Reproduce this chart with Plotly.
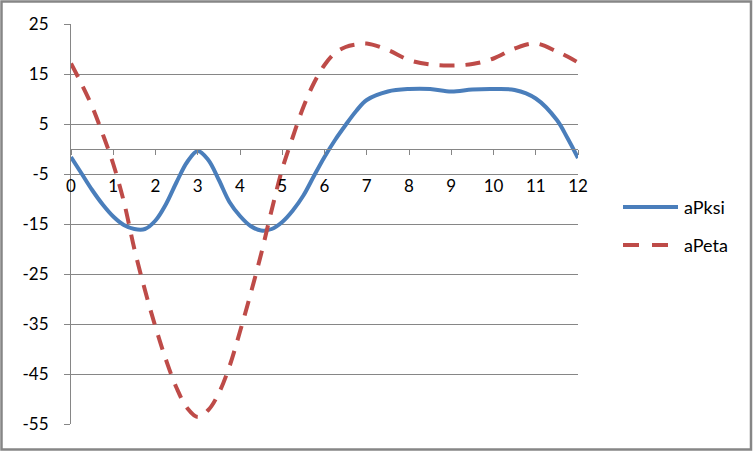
import plotly.graph_objects as go

x_vals = [0, 0.25, 0.5, 0.75, 1, 1.25, 1.5, 1.75, 2, 2.25, 2.5, 2.75, 3, 3.25, 3.5, 3.75, 4, 4.25, 4.5, 4.75,
          5, 5.25, 5.5, 5.75, 6, 6.25, 6.5, 6.75, 7, 7.5, 8, 8.5, 9, 9.5, 10, 10.5, 11, 11.5, 11.75, 12]
aPksi = [-1.6, -4.9, -8.2, -11.1, -13.5, -15.2, -16.0, -16.0, -14.3, -11.0, -6.6, -2.6, -0.4, -2.2, -6.2, -10.6,
         -13.4, -15.4, -16.3, -16.0, -14.6, -12.3, -9.3, -5.4, -1.6, 1.8, 4.8, 7.6, 9.8, 11.5, 12.0, 12.0, 11.5, 11.9,
         12.0, 11.8, 10.1, 5.8, 2.2, -1.8]
aPeta = [17.1, 13.0, 8.5, 3.0, -3.0, -10.5, -20.0, -28.2, -35.6, -42.2, -47.8, -51.8, -53.6, -52.2, -48.8, -43.5,
         -36.5, -29.0, -21.0, -12.2, -4.0, 2.4, 8.4, 13.2, 16.8, 19.2, 20.4, 20.9, 21.1, 19.8, 17.8, 16.9, 16.7, 17.0,
         18.1, 20.1, 21.1, 19.5, 18.5, 17.3]
x_ticks = list(range(0, 13))
y_ticks = [-55, -45, -35, -25, -15, -5, 5, 15, 25]
y_tick_text = ["-55", "-45", "-35", "-25", "-15", "-5", "5", "15", "25"]
series_names = ["aPksi", "aPeta"]
series_colors = ["#4A7EBB", "#BE4B48"]

FONT = "Lato, Open Sans, sans-serif"
GRAY = "#868686"

fig = go.Figure()
fig.add_trace(go.Scatter(x=x_vals, y=aPksi, mode="lines", name=series_names[0], showlegend=False,
                         line=dict(color=series_colors[0], width=4, shape="spline", smoothing=1.0)))
fig.add_trace(go.Scatter(x=x_vals, y=aPeta, mode="lines", name=series_names[1], showlegend=False,
                         line=dict(color=series_colors[1], width=4, shape="spline", smoothing=1.0, dash="15px,11px")))

W, H = 753, 451
L, R, T, B = 71, 578, 24, 424
pw, ph = R - L, B - T
ymin, ymax = -55, 25
zero_frac = (0 - ymin) / (ymax - ymin)

def px(xp):
    return (xp - L) / pw

def py(yp):
    return (B - yp) / ph

shapes = [dict(type="rect", xref="paper", yref="paper",
               x0=px(1.5), x1=px(751), y0=py(449.5), y1=py(1.5),
               line=dict(color=GRAY, width=2.5), fillcolor="rgba(0,0,0,0)", layer="below")]
annotations = []
# custom legend
leg_rows = [207, 245]
for i, name in enumerate(series_names):
    yy = py(leg_rows[i])
    shapes.append(dict(type="line", xref="paper", yref="paper",
                       x0=px(623), x1=px(678 if i == 0 else 668), y0=yy, y1=yy,
                       line=dict(color=series_colors[i], width=4, dash="solid" if i == 0 else "16px,13px")))
    annotations.append(dict(xref="paper", yref="paper", x=px(682), y=yy, xanchor="left", yanchor="middle",
                            text=name, showarrow=False, font=dict(family=FONT, size=18, color="black")))

fig.update_layout(
    width=W, height=H,
    margin=dict(l=L, r=W - R, t=T, b=H - B, pad=0, autoexpand=False),
    paper_bgcolor="white", plot_bgcolor="white",
    font=dict(family=FONT, size=17, color="black"),
    showlegend=False,
    xaxis=dict(range=[0, 12], tickvals=x_ticks, showgrid=False, zeroline=False, automargin=False,
               showline=True, linecolor=GRAY, linewidth=1,
               ticks="outside", ticklen=5, tickcolor=GRAY, tickwidth=1,
               anchor="free", position=zero_frac, ticklabelstandoff=17),
    yaxis=dict(range=[ymin, ymax], tickvals=y_ticks, ticktext=y_tick_text, showgrid=True, gridcolor=GRAY,
               gridwidth=1, zeroline=False, showline=True, linecolor=GRAY, linewidth=1, automargin=False,
               ticks="outside", ticklen=6, tickcolor=GRAY, tickwidth=1, ticklabelstandoff=12),
    shapes=shapes,
    annotations=annotations,
)

fig.write_html("out.html", config={"displayModeBar": False},
               post_script="document.body.style.margin='0';document.body.style.padding='0';"
                           "document.body.style.overflow='hidden';")
